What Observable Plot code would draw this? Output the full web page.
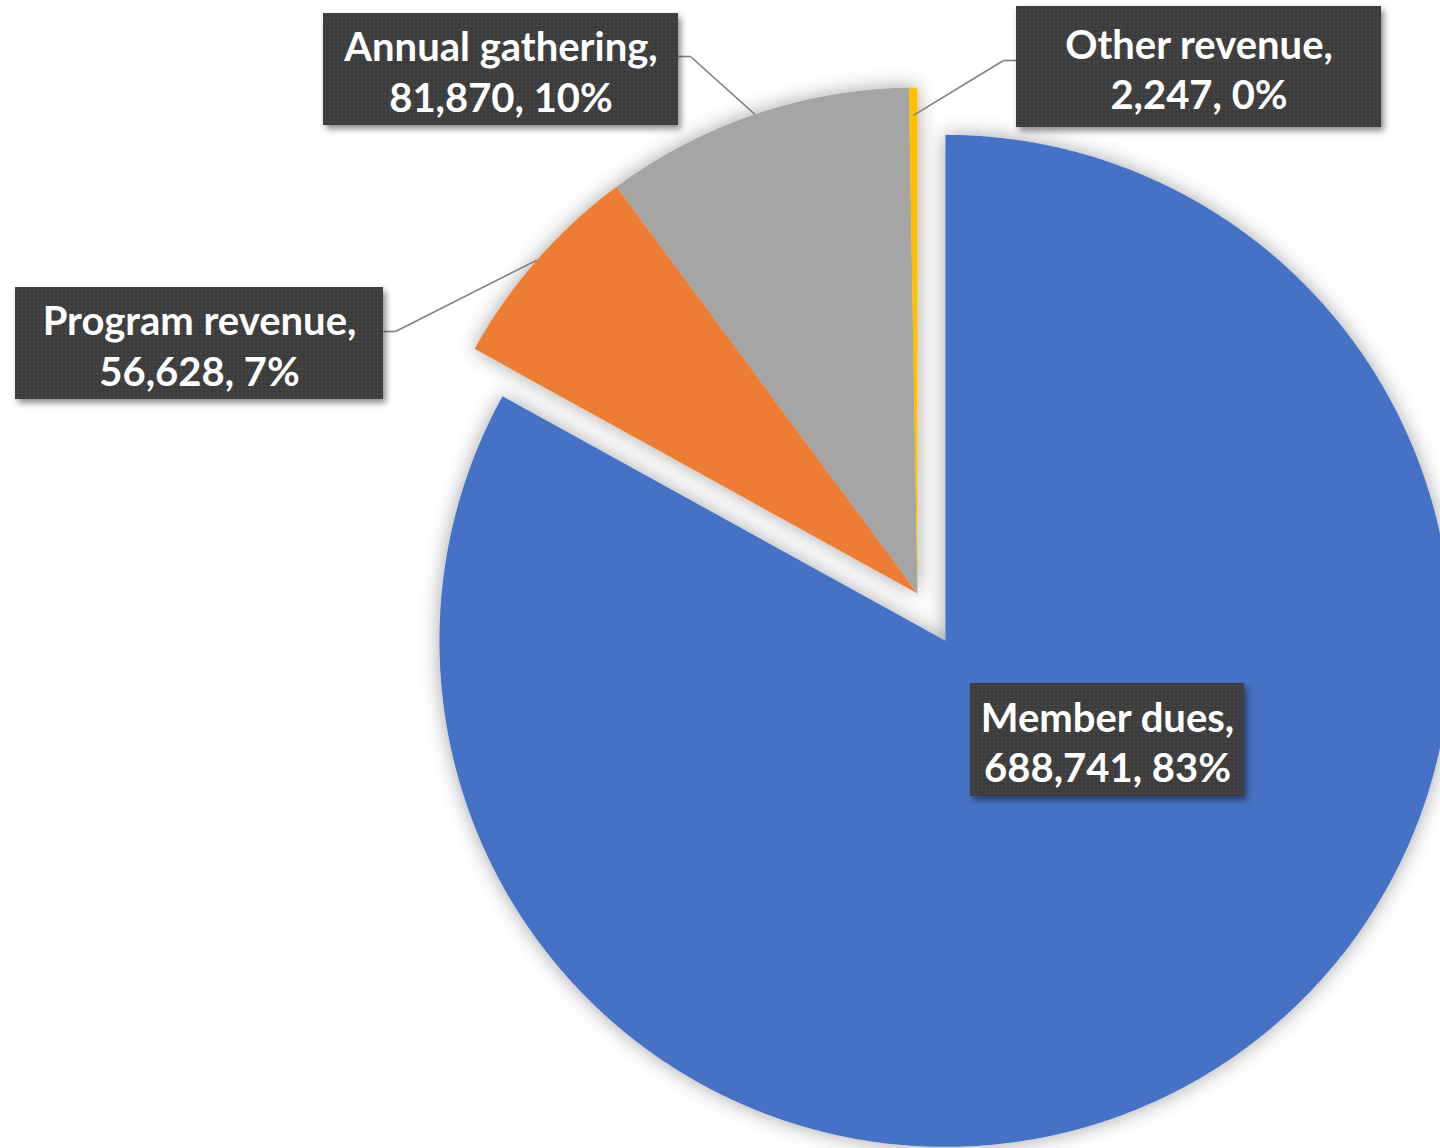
<!DOCTYPE html>
<html>
<head>
<meta charset="utf-8">
<script src="https://cdn.jsdelivr.net/npm/d3@7"></script>
<script src="https://cdn.jsdelivr.net/npm/@observablehq/plot@0.6"></script>
<style>
  html, body { margin: 0; padding: 0; background: #fff; overflow: hidden; }
  #chart svg { display: block; }
</style>
</head>
<body>
<div id="chart"></div>
<script>
// ---- data ----
const categories = ["Member dues", "Program revenue", "Annual gathering", "Other revenue"];
const values = [688741, 56628, 81870, 2247];

// ---- style ----
const sliceColors = ["#4472C4", "#ED7D31", "#A5A5A5", "#FFC000"];
const explode = [55, 0, 0, 0];           // explosion distance per slice
const W = 1440, H = 1148;
const pie = {cx: 917, cy: 593, r: 506};   // pie layout (chart units)

// label layout: box extents, leader elbow, leader end radius factor
const labelBoxes = [
  {x1: 970, x2: 1244, y1: 683, y2: 796, leader: null},
  {x1: 15, x2: 383, y1: 287, y2: 399, leader: {sx: 383, sy: 331, ex: 395, ey: 331, rf: 1}},
  {x1: 323, x2: 678, y1: 13, y2: 125, leader: {sx: 678, sy: 56, ex: 690, ey: 56, rf: 1}},
  {x1: 1016, x2: 1381, y1: 6, y2: 127, leader: {sx: 1016, sy: 60, ex: 1003, ey: 60, rf: 0.945}}
];

// ---- derived slice geometry ----
const total = d3.sum(values);
const fmt = d3.format(",");
let acc = 0;
const slices = categories.map((name, i) => {
  const a0 = acc / total * 2 * Math.PI;
  acc += values[i];
  const a1 = acc / total * 2 * Math.PI;
  const mid = (a0 + a1) / 2;
  const ox = explode[i] * Math.sin(mid), oy = -explode[i] * Math.cos(mid);
  return {name, value: values[i], pct: Math.round(values[i] / total * 100), a0, a1, mid, ox, oy};
});

const slicePoints = [];
for (const s of slices) {
  const cx = pie.cx + s.ox, cy = pie.cy + s.oy;
  slicePoints.push({name: s.name, x: cx, y: cy});
  const n = Math.max(2, Math.ceil((s.a1 - s.a0) / (Math.PI / 720)));
  for (let k = 0; k <= n; k++) {
    const a = s.a0 + (s.a1 - s.a0) * k / n;
    slicePoints.push({name: s.name, x: cx + pie.r * Math.sin(a), y: cy - pie.r * Math.cos(a)});
  }
  slicePoints.push({name: s.name, x: cx, y: cy});
}

const labels = slices.map((s, i) => ({
  ...labelBoxes[i],
  cx: (labelBoxes[i].x1 + labelBoxes[i].x2) / 2,
  cy: (labelBoxes[i].y1 + labelBoxes[i].y2) / 2,
  text: `${s.name},\n${fmt(s.value)}, ${s.pct}%`
}));

const leaders = [];
slices.forEach((s, i) => {
  const L = labelBoxes[i].leader;
  if (!L) return;
  const px = pie.cx + s.ox + pie.r * L.rf * Math.sin(s.mid);
  const py = pie.cy + s.oy - pie.r * L.rf * Math.cos(s.mid);
  leaders.push({x1: L.sx, y1: L.sy, x2: L.ex, y2: L.ey});
  leaders.push({x1: L.ex, y1: L.ey, x2: px, y2: py});
});

const fontSize = 40;

const plot = Plot.plot({
  width: W,
  height: H,
  margin: 0,
  x: {domain: [0, W], range: [0, W], axis: null},
  y: {domain: [0, H], range: [0, H], axis: null},
  color: {domain: categories, range: sliceColors},
  style: {background: "white", overflow: "hidden"},
  marks: [
    Plot.line(slicePoints, {x: "x", y: "y", z: "name", fill: "name", stroke: "none", curve: "linear", clip: true}),
    Plot.link(leaders, {x1: "x1", y1: "y1", x2: "x2", y2: "y2", stroke: "#808080", strokeWidth: 1.6}),
    Plot.rect(labels, {x1: "x1", x2: "x2", y1: "y1", y2: "y2", fill: "url(#dotpattern)"}),
    Plot.text(labels, {
      x: "cx", y: "cy", text: "text",
      fill: "white", fontSize, fontWeight: "bold",
      fontFamily: "Lato, 'Noto Sans', sans-serif",
      lineHeight: 1.26, textAnchor: "middle", lineAnchor: "middle", dy: 1
    })
  ]
});

document.getElementById("chart").appendChild(plot);

// ---- decorations: pattern + shadows ----
const svg = d3.select(plot);
const defs = svg.insert("defs", ":first-child");
const pat = defs.append("pattern").attr("id", "dotpattern").attr("patternUnits", "userSpaceOnUse")
  .attr("width", 4).attr("height", 4);
pat.append("rect").attr("width", 4).attr("height", 4).attr("fill", "#3d3d3d");
pat.append("rect").attr("x", 1).attr("y", 1).attr("width", 1.2).attr("height", 1.2).attr("fill", "#575757");

const f1 = defs.append("filter").attr("id", "pieShadow")
  .attr("x", "-15%").attr("y", "-15%").attr("width", "130%").attr("height", "130%");
f1.append("feDropShadow").attr("dx", 0).attr("dy", 0).attr("stdDeviation", 10)
  .attr("flood-color", "#000").attr("flood-opacity", 0.36);

const f2 = defs.append("filter").attr("id", "boxShadow")
  .attr("x", "-10%").attr("y", "-20%").attr("width", "130%").attr("height", "150%");
f2.append("feDropShadow").attr("dx", 3).attr("dy", 4).attr("stdDeviation", 3)
  .attr("flood-color", "#000").attr("flood-opacity", 0.45);

svg.selectAll('g[aria-label="line"]').attr("filter", "url(#pieShadow)");
svg.selectAll('g[aria-label="rect"]').attr("filter", "url(#boxShadow)");
</script>
</body>
</html>
